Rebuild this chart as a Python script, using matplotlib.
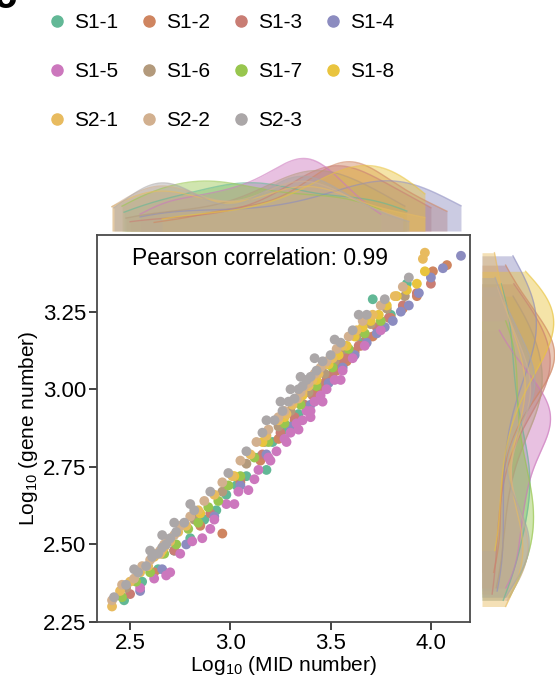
import numpy as np
import matplotlib
matplotlib.use("Agg")
import matplotlib.pyplot as plt
from matplotlib.lines import Line2D

plt.rcParams['font.family'] = ['Liberation Sans', 'DejaVu Sans']

# samples and colours
samples = ['S1-1', 'S1-2', 'S1-3', 'S1-4', 'S1-5', 'S1-6', 'S1-7', 'S1-8',
           'S2-1', 'S2-2', 'S2-3']
colors = ['#62b896', '#cf8560', '#c97d74', '#8c8cc0', '#cc77bd', '#b39a7c',
          '#98c64e', '#e9c43e', '#e8bb5f', '#d2b08f', '#aba7a8']

# log10 MID number (x) and log10 gene number (y)
s1_1_x = [2.47, 2.56, 2.64, 2.72, 2.80, 2.87, 2.93, 2.98, 3.03, 3.08, 3.14,
          3.18, 3.21, 3.27, 3.34, 3.42, 3.50, 3.58, 3.66, 3.71, 3.80, 3.88]
s1_1_y = [2.32, 2.38, 2.42, 2.48, 2.52, 2.58, 2.61, 2.66, 2.69, 2.72, 2.78,
          2.74, 2.83, 2.87, 2.92, 2.99, 3.04, 3.11, 3.15, 3.29, 3.24, 3.34]

s1_2_x = [2.62, 2.85, 2.96, 3.05, 3.15, 3.24, 3.32, 3.38, 3.43, 3.47, 3.50, 3.53, 3.56,
          3.58, 3.60, 3.62, 3.65, 3.68, 3.71, 3.75, 3.80, 3.86, 3.93, 4.01, 4.08]
s1_2_y = [2.41, 2.56, 2.535, 2.70, 2.77, 2.84, 2.90, 2.94, 2.99, 3.02, 3.03, 3.06, 3.08,
          3.09, 3.11, 3.12, 3.14, 3.16, 3.17, 3.20, 3.23, 3.26, 3.30, 3.38, 3.40]

s1_3_x = [2.50, 2.72, 2.90, 3.05, 3.16, 3.25, 3.32, 3.37, 3.41, 3.45, 3.48,
          3.51, 3.54, 3.57, 3.60, 3.64, 3.68, 3.73, 3.79, 3.86, 3.93, 4.00]
s1_3_y = [2.34, 2.48, 2.60, 2.71, 2.79, 2.86, 2.91, 2.95, 2.98, 3.01, 3.03,
          3.05, 3.08, 3.10, 3.12, 3.14, 3.17, 3.20, 3.23, 3.27, 3.31, 3.34]

s1_4_x = [2.55, 2.66, 2.78, 2.92, 3.05, 3.18, 3.30, 3.40, 3.49, 3.56, 3.62,
          3.68, 3.73, 3.77, 3.81, 3.85, 3.89, 3.94, 4.00, 4.06, 4.15]
s1_4_y = [2.35, 2.42, 2.50, 2.59, 2.69, 2.79, 2.88, 2.95, 3.02, 3.07, 3.11,
          3.15, 3.18, 3.20, 3.22, 3.25, 3.27, 3.31, 3.36, 3.39, 3.43]

s1_5_x = [2.55, 2.62, 2.68, 2.75, 2.81, 2.86, 2.92, 2.98, 3.04, 3.09, 3.14, 3.19, 3.23,
          3.27, 3.30, 3.33, 3.36, 3.38, 3.40, 3.42, 3.45, 3.48, 3.52, 3.56, 3.61, 3.67, 3.75,
          2.70, 2.90, 3.02, 3.12, 3.20, 3.28, 3.34, 3.40, 3.46, 3.55]
s1_5_y = [2.36, 2.39, 2.40, 2.47, 2.51, 2.52, 2.58, 2.63, 2.67, 2.675, 2.74, 2.78, 2.80,
          2.84, 2.86, 2.89, 2.90, 2.93, 2.93, 2.96, 2.98, 3.00, 3.03, 3.06, 3.10, 3.14, 3.19,
          2.41, 2.55, 2.63, 2.71, 2.77, 2.83, 2.87, 2.91, 2.96, 3.03]

s1_6_x = [2.48, 2.66, 2.82, 2.96, 3.08, 3.17, 3.24, 3.30, 3.35,
          3.39, 3.43, 3.47, 3.52, 3.57, 3.63, 3.70, 3.78, 3.87]
s1_6_y = [2.36, 2.47, 2.58, 2.67, 2.76, 2.83, 2.88, 2.93, 2.96,
          2.99, 3.02, 3.05, 3.09, 3.13, 3.17, 3.21, 3.26, 3.30]

s1_7_x = [2.46, 2.53, 2.60, 2.67, 2.73, 2.79, 2.84, 2.89, 2.94, 2.99, 3.05,
          3.12, 3.19, 3.27, 3.35, 3.43, 3.51, 3.59, 3.67, 3.75]
s1_7_y = [2.33, 2.38, 2.41, 2.47, 2.50, 2.55, 2.57, 2.62, 2.64, 2.69, 2.72,
          2.78, 2.83, 2.89, 2.95, 3.01, 3.07, 3.13, 3.18, 3.22]

s1_8_x = [2.66, 2.85, 3.02, 3.16, 3.27, 3.36, 3.43, 3.49, 3.54, 3.58,
          3.62, 3.66, 3.70, 3.74, 3.78, 3.83, 3.88, 3.93, 3.97]
s1_8_y = [2.48, 2.60, 2.72, 2.83, 2.91, 2.98, 3.03, 3.08, 3.11, 3.14,
          3.17, 3.20, 3.22, 3.24, 3.27, 3.30, 3.32, 3.34, 3.38]

s2_1_x = [2.41, 2.45, 2.50, 2.55, 2.59, 2.62, 2.65, 2.67, 2.70, 2.74, 2.78, 2.84, 2.92,
          3.01, 3.10, 3.18, 3.24, 3.28, 3.31, 3.34, 3.36, 3.39, 3.41, 3.44, 3.47, 3.51,
          3.56, 3.63, 3.71, 3.82, 3.96, 3.97]
s2_1_y = [2.30, 2.35, 2.38, 2.41, 2.43, 2.46, 2.47, 2.49, 2.51, 2.54, 2.56, 2.61, 2.66,
          2.72, 2.79, 2.85, 2.90, 2.92, 2.95, 2.97, 2.99, 3.01, 3.03, 3.05, 3.08, 3.10,
          3.14, 3.19, 3.24, 3.30, 3.42, 3.44]

s2_2_x = [2.41, 2.46, 2.52, 2.56, 2.60, 2.63, 2.65, 2.67, 2.69, 2.72, 2.75, 2.80, 2.87,
          2.96, 3.05, 3.13, 3.19, 3.24, 3.27, 3.30, 3.33, 3.35, 3.37, 3.39, 3.42, 3.45,
          3.48, 3.53, 3.59, 3.66, 3.75, 3.86]
s2_2_y = [2.32, 2.37, 2.39, 2.43, 2.45, 2.47, 2.48, 2.50, 2.51, 2.53, 2.56, 2.59, 2.64,
          2.70, 2.77, 2.83, 2.87, 2.91, 2.93, 2.96, 2.97, 2.99, 3.01, 3.02, 3.05, 3.07,
          3.09, 3.13, 3.17, 3.22, 3.27, 3.33]

s2_3_x = [2.42, 2.48, 2.54, 2.58, 2.61, 2.64, 2.66, 2.68, 2.70, 2.73, 2.77, 2.82, 2.90,
          2.99, 3.08, 3.16, 3.22, 3.26, 3.29, 3.32, 3.34, 3.36, 3.38, 3.40, 3.43, 3.46,
          3.50, 3.55, 3.61, 3.68, 3.77, 3.89,
          2.52, 2.60, 2.66, 2.72, 2.80, 3.18, 3.25, 3.30, 3.35, 3.42, 3.52, 3.64]
s2_3_y = [2.33, 2.37, 2.41, 2.43, 2.46, 2.47, 2.49, 2.50, 2.52, 2.54, 2.57, 2.61, 2.67,
          2.73, 2.80, 2.86, 2.90, 2.93, 2.96, 2.97, 3.00, 3.01, 3.03, 3.04, 3.06, 3.09,
          3.11, 3.15, 3.19, 3.24, 3.29, 3.36,
          2.42, 2.48, 2.53, 2.57, 2.63, 2.90, 2.96, 3.00, 3.04, 3.10, 3.16, 3.24]

xs = [s1_1_x, s1_2_x, s1_3_x, s1_4_x, s1_5_x, s1_6_x, s1_7_x, s1_8_x, s2_1_x, s2_2_x, s2_3_x]
ys = [s1_1_y, s1_2_y, s1_3_y, s1_4_y, s1_5_y, s1_6_y, s1_7_y, s1_8_y, s2_1_y, s2_2_y, s2_3_y]

pearson_r = 0.99


def kde(vals, grid, adjust=0.8):
    vals = np.asarray(vals)
    bw = vals.std(ddof=1) * len(vals) ** (-0.2) * adjust
    d = (grid[:, None] - vals[None, :]) / bw
    return np.exp(-0.5 * d ** 2).sum(1) / (len(vals) * bw * np.sqrt(2 * np.pi))


fig = plt.figure(figsize=(5.55, 6.84), dpi=100)
W, H = 555, 684
ax = fig.add_axes([97 / W, 1 - 622 / H, 373 / W, 387 / H])
ax_top = fig.add_axes([97 / W, 1 - 231 / H, 373 / W, 74 / H], sharex=ax)
ax_right = fig.add_axes([482 / W, 1 - 622 / H, 74 / W, 387 / H], sharey=ax)

for x, y, c in zip(xs, ys, colors):
    ax.scatter(x, y, s=50, color=c, edgecolors='none', zorder=3)

top_max, right_max = 0, 0
for x, y, c in zip(xs, ys, colors):
    gx = np.linspace(min(x), max(x), 200)
    dx = kde(x, gx)
    ax_top.fill_between(gx, 0, dx, color=c, alpha=0.45, lw=0)
    ax_top.plot(gx, dx, color=c, alpha=0.6, lw=1)
    gy = np.linspace(min(y), max(y), 200)
    dy = kde(y, gy)
    ax_right.fill_betweenx(gy, 0, dy, color=c, alpha=0.45, lw=0)
    ax_right.plot(dy, gy, color=c, alpha=0.6, lw=1)
    top_max = max(top_max, dx.max())
    right_max = max(right_max, dy.max())

ax_top.set_ylim(0, top_max * 1.02)
ax_right.set_xlim(0, right_max * 1.02)
for a in (ax_top, ax_right):
    for sp in a.spines.values():
        sp.set_visible(False)
    a.tick_params(left=False, bottom=False, labelleft=False, labelbottom=False)

ax.set_xlim(2.335, 4.195)
ax.set_ylim(2.25, 3.497)
ax.set_xticks([2.5, 3.0, 3.5, 4.0])
ax.set_yticks([2.25, 2.50, 2.75, 3.00, 3.25])
ax.set_yticklabels(['2.25', '2.50', '2.75', '3.00', '3.25'])
for sp in ax.spines.values():
    sp.set_color('#4a4a4a')
    sp.set_linewidth(1.3)
ax.tick_params(direction='out', length=6, width=1.3, color='#333333',
               labelsize=16, pad=2)

ax.set_xlabel('Log$_{\\mathregular{10}}$ (MID number)', fontsize=15, labelpad=0)
ax.set_ylabel('Log$_{\\mathregular{10}}$ (gene number)', fontsize=15, labelpad=2)
ax.text(0.437, 0.938, 'Pearson correlation: %.2f' % pearson_r, transform=ax.transAxes,
        ha='center', va='center', fontsize=16.5)

# legend filled column by column, so order entries to read row by row
order = [0, 4, 8, 1, 5, 9, 2, 6, 10, 3, 7]
handles = [Line2D([], [], marker='o', ls='', color=colors[i], markersize=8) for i in order]
labels = [samples[i] for i in order]
fig.legend(handles, labels, loc='upper left', bbox_to_anchor=(40 / W, 1 - 5 / H),
           ncol=4, frameon=False, fontsize=15, handlelength=0.8, handletextpad=0.45,
           columnspacing=1.05, labelspacing=1.44, borderaxespad=0)

fig.text(-0.012, 1.005, 'c', fontsize=30, fontweight='bold', ha='left', va='center')

fig.savefig('out.png', dpi=100)
